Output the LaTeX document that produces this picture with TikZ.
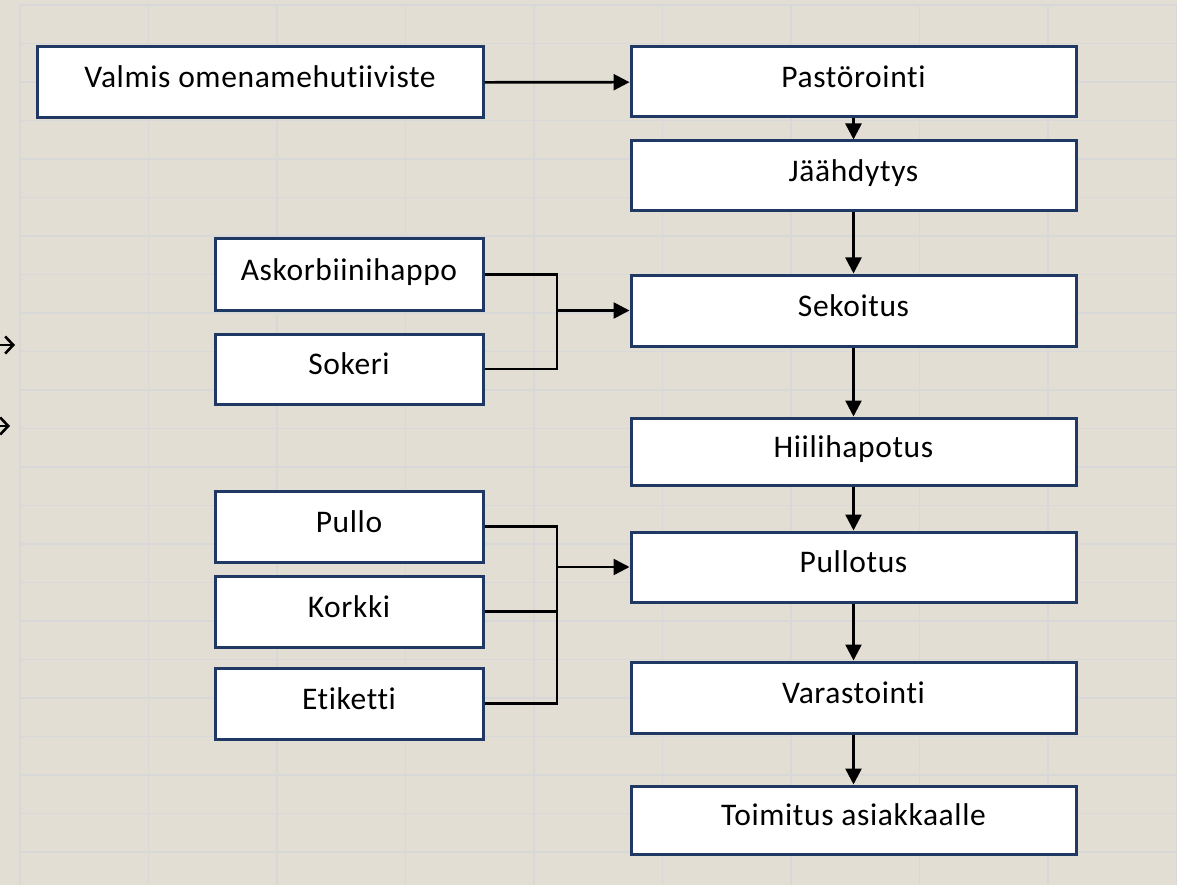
\documentclass[tikz,border=0pt]{standalone}
\usepackage{fontspec}
\setmainfont{Carlito}[Ligatures=NoCommon, LetterSpace=2]
\usetikzlibrary{arrows.meta}
\definecolor{sheetbg}{RGB}{227,222,212}
\definecolor{gridgray}{RGB}{216,216,216}
\definecolor{boxblue}{RGB}{31,56,100}
\tikzset{
  stepbox/.style={draw=boxblue, line width=3pt, fill=white, inner sep=0pt,
    minimum height=70pt, text height=22pt, text depth=11pt,
    font=\fontsize{31.5}{36}\selectfont},
  mainstep/.style={stepbox, minimum width=445pt},
  sidestep/.style={stepbox, minimum width=268pt},
  flow/.style={line width=2.6pt, -{Triangle[length=16pt,width=16pt]}},
  bracket/.style={line width=2.6pt},
}
\begin{document}
\begin{tikzpicture}[x=1pt,y=-1pt]
\useasboundingbox (0,0) rectangle (1177,885);
\clip (0,0) rectangle (1177,885);
\fill[sheetbg] (0,0) rectangle (1177,885);
% sheet grid
\foreach \gx in {0,...,9}
  \draw[gridgray, line width=1.5pt] (20+128.5*\gx,5) -- (20+128.5*\gx,885);
\foreach \gy in {0,...,23}
  \draw[gridgray, line width=1.5pt] (20,5+38.5*\gy) -- (1177,5+38.5*\gy);

% stray arrows at the left edge
\draw[line width=2.6pt, -{Straight Barb[length=8pt,width=17pt]}] (-20,345) -- (15,345);
\draw[line width=2.6pt, -{Straight Barb[length=8pt,width=17pt]}] (-20,426) -- (10,426);

% main column
\node[stepbox, minimum width=446pt, minimum height=71pt] (valmis) at (260,82.5) {Valmis omenamehutiiviste};
\node[mainstep] (pastor) at (853.5,82) {Pastörointi};
\node[mainstep] (jaahd) at (853.5,176) {Jäähdytys};
\node[mainstep, minimum height=71pt] (sekoit) at (853.5,310.5) {Sekoitus};
\node[mainstep, minimum height=67pt] (hiili) at (853.5,451.5) {Hiilihapotus};
\node[mainstep] (pullot) at (853.5,567) {Pullotus};
\node[mainstep, minimum height=71pt] (varast) at (853.5,697.5) {Varastointi};
\node[mainstep, minimum height=68pt] (toimit) at (853.5,820) {Toimitus asiakkaalle};

% ingredients
\node[sidestep, minimum height=71pt] (askorb) at (349,274.5) {Askorbiinihappo};
\node[sidestep] (sokeri) at (349,369) {Sokeri};
\node[sidestep, minimum height=71pt] (pullo) at (349,526.5) {Pullo};
\node[sidestep, minimum height=71pt] (korkki) at (349,611.5) {Korkki};
\node[sidestep, minimum height=71pt] (etik) at (349,703.5) {Etiketti};

\draw[flow] (valmis) -- (pastor);
\draw[flow] (pastor) -- (jaahd);
\draw[flow] (jaahd) -- (sekoit);
\draw[flow] (sekoit) -- (hiili);
\draw[flow] (hiili) -- (pullot);
\draw[flow] (pullot) -- (varast);
\draw[flow] (varast) -- (toimit);

\coordinate (mixjoin) at (557,310.5);
\draw[bracket] (askorb.east) -- (askorb.east -| mixjoin) -- (sokeri.east -| mixjoin) -- (sokeri.east);
\draw[flow] (mixjoin) -- (sekoit.west);

\coordinate (packjoin) at (557,567);
\draw[bracket] (pullo.east) -- (pullo.east -| packjoin) -- (etik.east -| packjoin) -- (etik.east);
\draw[bracket] (korkki.east) -- (korkki.east -| packjoin);
\draw[flow] (packjoin) -- (pullot.west);
\end{tikzpicture}
\end{document}
